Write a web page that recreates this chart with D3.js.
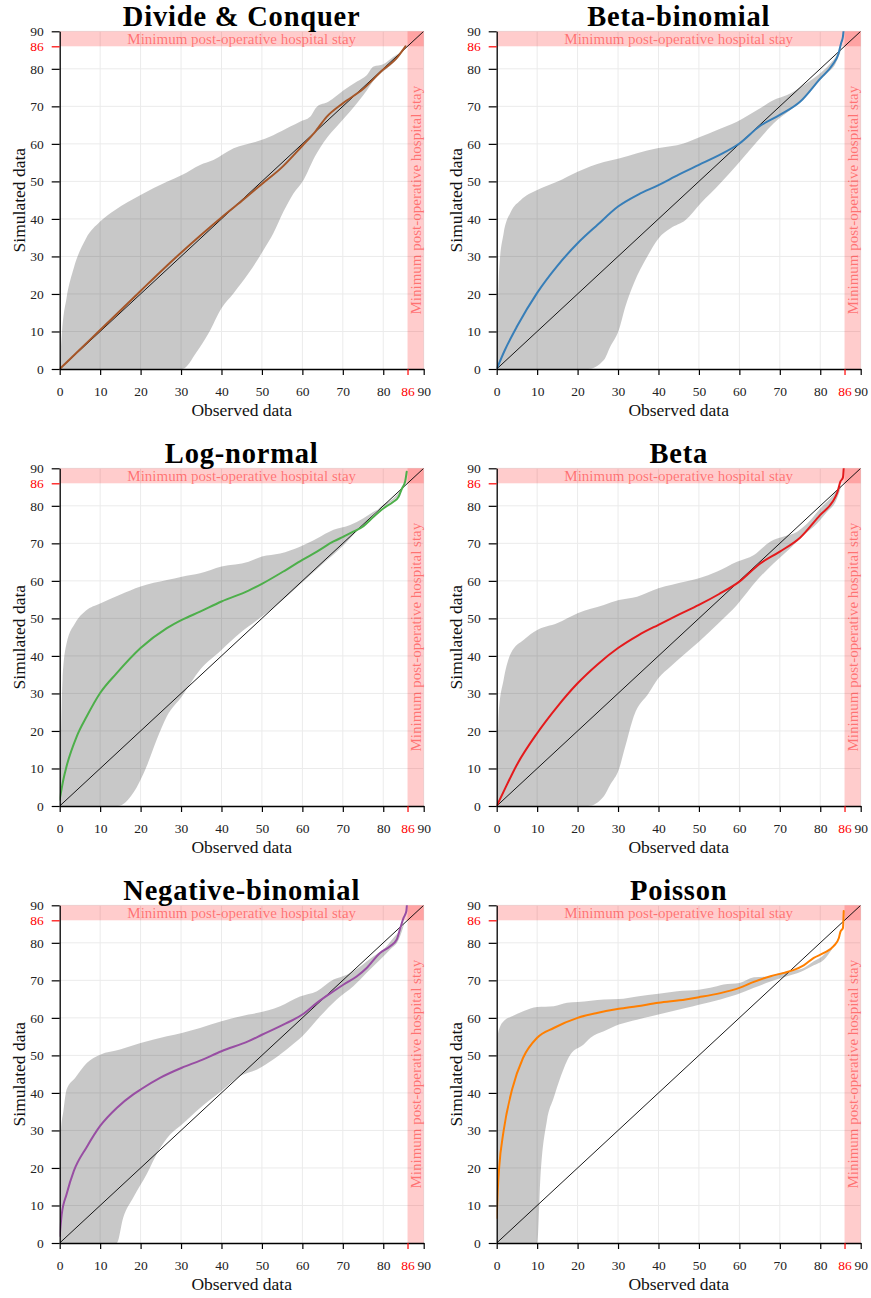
<!DOCTYPE html>
<html>
<head>
<meta charset="utf-8">
<script src="https://cdn.jsdelivr.net/npm/d3@7"></script>
<style>
  html, body { margin: 0; padding: 0; background: #fff; }
  svg { display: block; }
</style>
</head>
<body>
<svg id="chart" width="871" height="1298"></svg>
<script>
// ---------- data ----------
const titles = ["Divide & Conquer", "Beta-binomial", "Log-normal", "Beta", "Negative-binomial", "Poisson"];
const colors = ["#a65628", "#377eb8", "#4daf4a", "#e41a1c", "#984ea3", "#ff7f00"];
const xTicks = [0, 10, 20, 30, 40, 50, 60, 70, 80, 90];
const yTicks = [0, 10, 20, 30, 40, 50, 60, 70, 80, 90];
const limitValue = 86;
const domainMax = 90;
const bandLabel = "Minimum post-operative hospital stay";

// Divide & Conquer
const dcUpper = [[0,0],[0.6,10.4],[1.7,19],[3.5,27],[6.5,34.8],[10,39.3],[13.7,42.4],[20,46.4],[26.5,49.9],[30.2,51.7],[34.7,54.4],[38,55.7],[43,58.8],[48.7,60.6],[52.8,62.3],[57,64.6],[59.4,65.9],[61.9,67.2],[63.6,69.9],[66.4,71.2],[70.2,74.3],[73.5,76.6],[75.9,78.3],[77.6,80.6],[80,81.2],[82.5,83.2],[84.2,84.5],[85.4,85.9]];
const dcLower = [[0,0],[30.3,0],[33.9,4.6],[36.8,9.5],[40,16.2],[43,20.2],[46.7,25.5],[50.4,31.7],[52.8,36.1],[55.3,41.9],[57.8,46.8],[60.3,50.4],[63.1,56.6],[66,61.5],[68.5,64.6],[71.8,68.6],[75.1,73],[78.4,77.9],[80.9,80.1],[84.2,83.7],[85.4,85.9]];
const dcCurve = [[0,0],[5,5.2],[10,10.4],[15,15.6],[20,20.8],[25,26],[30,31],[35,35.8],[40,40.4],[45,44.8],[50,49.3],[55,53.8],[60,59.5],[63,63],[66,67.2],[70,70.8],[75,74.6],[80,79.8],[83,82.5],[84,83.8],[85.5,86]];

// Beta-binomial
const bbUpper = [[0,0],[0.6,26.4],[1.7,36.1],[3.5,41.9],[5.9,45],[10,47.7],[14.9,49.9],[20,52.6],[26.5,55.2],[30.2,56.1],[34.7,57.5],[39.7,58.8],[46.2,60.1],[50.4,61.9],[54.5,63.7],[59.4,65.9],[64.4,69],[68.5,71.7],[71.8,73],[75.9,75.7],[80,78.8],[82.5,81.4],[84.2,83.7],[85.3,85.5]];
const bbLower = [[0,0],[22.6,0],[26.5,2.4],[28.1,6],[30.2,10.4],[31.8,16.6],[33.9,22.8],[37.2,29.9],[40,34.8],[43,37.5],[46.7,39.7],[50.4,44.1],[55.3,49.5],[59.4,54.4],[64.4,60.6],[68.5,65.5],[72.6,69],[75.9,72.1],[79.2,76.1],[81.7,78.8],[83.8,81.4],[85.3,85.5]];
const bbCurve = [[0,0],[2,5],[5,11.3],[10,20.3],[15,27.5],[20,33.5],[25,38.5],[30,43.3],[35,46.5],[40,49],[45,51.8],[50,54.4],[55,57],[60,60.1],[65,64.7],[70,67.7],[75,71.2],[80,77.4],[83,81],[84.5,84],[85.2,87],[85.6,88.5],[85.9,92]];

// Log-normal
const lnUpper = [[0,5],[0.3,17.7],[0.7,33.6],[1.7,43.4],[3.8,48.7],[6.5,52.1],[10,54],[14.9,56.3],[20,58.5],[26.5,60.2],[30.2,61.1],[34.7,62],[40,63.8],[46.7,65.1],[50,66.5],[54.5,67.3],[59.4,69.1],[63.6,71.3],[67.7,73.6],[71.8,74.9],[75.1,76.7],[77.6,78.4],[80,79.8],[82.5,81.5],[84.2,83.3],[85.3,85.5]];
const lnLower = [[0,0],[14.4,0],[18.2,3.5],[21.5,10.6],[24,17.7],[26.5,23.9],[30.2,29.2],[34.7,36.3],[40,41.6],[44.6,46.1],[50,50.5],[55,54.8],[60,59.6],[65,64.5],[70,69.3],[75.1,75],[80,80.3],[82.5,82],[84.2,84],[85.3,85.5]];
const lnCurve = [[0,1.7],[0.9,7],[1.7,10.6],[4.2,18.5],[6.7,23.9],[10,30.1],[14.1,35.4],[20,42.1],[26.5,47.4],[30.2,49.6],[34.7,51.8],[40,54.5],[46.7,57.4],[50,59.2],[55.3,62.5],[60,65.6],[63.6,67.8],[67.7,70.5],[70.2,71.8],[72.6,73.1],[75.1,74.6],[77.6,77.1],[80,79.3],[82.5,81.1],[83.8,82.4],[84.6,84.6],[85.4,86.4],[85.8,89.1]];

// Beta
const beUpper = [[0,0],[0.5,24.8],[1.7,33.6],[3.5,40.7],[6.7,44.3],[10,46.9],[14.9,48.7],[20,51.4],[26.5,53.6],[30.2,54.9],[34.7,55.8],[40,58],[46.7,59.8],[50,60.7],[54.5,62.5],[59.4,65.1],[63.6,66.9],[67.7,70.5],[71,71.8],[74.3,73.1],[77.6,76.2],[80,79.3],[82.5,82],[84.2,84.2],[85.3,85.5]];
const beLower = [[0,0],[22.6,0],[26.5,2.6],[28.1,5.7],[30.2,9.7],[31.8,15.9],[33.9,23.9],[37.6,30.1],[40,34.1],[43,37.2],[46.7,40.7],[50,43.8],[55.3,49.2],[59.4,53.6],[64.4,60.2],[68.5,64.7],[72.6,68.7],[75.9,72.2],[79.2,75.3],[81.7,78.4],[83.8,81.1],[85.3,85.5]];
const beCurve = [[0,0],[2,4.5],[5,11],[10,19.4],[15,26.5],[20,32.7],[25,37.8],[30,42.1],[35,45.5],[40,48.3],[45,51],[50,53.6],[55,56.5],[60,59.8],[65,64.5],[70,67.8],[75,71.5],[80,77.6],[83,81],[84.2,83.5],[85,86.5],[85.6,87.5],[85.9,92]];

// Negative-binomial
const nbUpper = [[0,3],[0.3,29.8],[0.9,35.1],[1.7,40.9],[3.8,44],[6.7,48],[10,50.2],[14.9,51.6],[20,53.3],[26.5,55.1],[30.2,56],[34.7,57.3],[40,59.1],[46.7,60.9],[48.7,61.3],[54.5,63.1],[59.4,65.7],[63.6,67.1],[67.7,70.2],[71,71.5],[74.3,73.7],[77.6,76.4],[80,78.2],[82.5,81.3],[84.2,83.5],[85.3,85.5]];
const nbLower = [[0,0],[14.1,0],[15.7,6.7],[18.2,12.1],[21.5,18.3],[24.4,24.5],[27.3,28.9],[30.2,31.6],[34.7,36],[40,40.5],[44.6,44.5],[48.7,46.2],[52.8,48.9],[57,52.4],[60,55.1],[64.4,60.4],[68.5,64.9],[72.6,68.4],[75.9,72],[79.2,75.5],[81.7,78.2],[83.8,80.8],[85.3,85.5]];
const nbCurve = [[0,1.9],[0.5,7.6],[1.7,13],[3.5,19.2],[6.7,25.6],[10,31.2],[14.1,36],[18.2,39.6],[20,40.9],[24.8,44],[30.2,46.7],[34.7,48.6],[40,51.1],[46.7,53.8],[50,55.5],[55.3,58.2],[60,60.9],[63.6,64],[67.7,67.1],[70.2,68.9],[73.5,71.1],[75.9,73.3],[79.2,77.3],[81.7,79.1],[83.3,80.8],[84.2,83.9],[85,86.6],[85.7,88.4],[85.95,92]];

// Poisson
const poUpper = [[0,50],[0.3,55.5],[0.9,57.8],[1.7,59.1],[3.8,60.4],[6.7,61.8],[10,62.9],[14.1,63.1],[17.4,64],[20,64.2],[26.5,64.9],[30.2,65],[34.7,65.7],[40,66.4],[44.6,67.1],[50,67.5],[52.8,68],[56.1,68.9],[60,69.3],[63.6,70.8],[67.7,71.1],[70.2,72],[73.5,72.6],[75.9,73.3],[78.4,75.1],[80,76],[82.5,78.2],[83,78.5]];
const poLower = [[0,0],[10,0],[10.8,17.4],[12.4,32.5],[14.1,38.7],[15.7,44],[18.2,50.2],[21.5,52.9],[23.2,54.7],[26.5,56.4],[30.2,58.2],[34.7,59.5],[40,60.9],[46.7,62.6],[50,63.5],[55.3,64.9],[59.4,66.2],[63.6,68],[67.7,69.7],[71.8,71.1],[75.1,72.2],[78.4,74],[80.9,75.5],[83,78.5]];
const poCurve = [[0,6.7],[0.25,13.8],[0.6,20],[1.7,29.8],[3.8,40.9],[6.5,49.3],[10,54.7],[14.1,57.3],[20,60],[24.8,61.3],[30.2,62.4],[34.7,63.1],[40,64],[46.7,64.9],[50,65.5],[55.3,66.6],[60,68],[63.6,69.6],[67.7,71.1],[71,72],[73.5,72.8],[75.9,74],[78.4,76],[80.9,77.3],[83.3,79.1],[84.6,81.3],[85,83],[85.6,83.9],[85.8,88.5]];

const uppers = [dcUpper, bbUpper, lnUpper, beUpper, nbUpper, poUpper];
const lowers = [dcLower, bbLower, lnLower, beLower, nbLower, poLower];
const curves = [dcCurve, bbCurve, lnCurve, beCurve, nbCurve, poCurve];

// ---------- layout ----------
const colX = [59.7, 496.7];
const rowY = [31.3, 468.3, 905.3];
const plotW = 364, plotH = 337.7;
const FONT = "'Liberation Serif', 'Times New Roman', serif";

const svg = d3.select("#chart");
const defs = svg.append("defs");

titles.forEach((title, i) => {
  const col = i % 2, row = Math.floor(i / 2);
  const g = svg.append("g").attr("transform", `translate(${colX[col]},${rowY[row]})`);
  const x = d3.scaleLinear().domain([0, domainMax]).range([0, plotW]);
  const y = d3.scaleLinear().domain([0, domainMax]).range([plotH, 0]);

  const clipId = "clip" + i;
  defs.append("clipPath").attr("id", clipId)
    .append("rect").attr("x", 0).attr("y", 0).attr("width", plotW).attr("height", plotH);

  // grid
  g.append("g").selectAll("line").data(xTicks.filter(v => v > 0)).join("line")
    .attr("x1", d => x(d)).attr("x2", d => x(d)).attr("y1", 0).attr("y2", plotH)
    .attr("stroke", "#ebebeb").attr("stroke-width", 1);
  g.append("g").selectAll("line").data(yTicks.filter(v => v > 0)).join("line")
    .attr("y1", d => y(d)).attr("y2", d => y(d)).attr("x1", 0).attr("x2", plotW)
    .attr("stroke", "#ebebeb").attr("stroke-width", 1);

  // red limit bands
  g.append("rect")
    .attr("x", x(0)).attr("y", y(domainMax))
    .attr("width", x(domainMax) - x(0)).attr("height", y(limitValue) - y(domainMax))
    .attr("fill", "red").attr("fill-opacity", 0.2);
  g.append("rect")
    .attr("x", x(limitValue)).attr("y", y(domainMax))
    .attr("width", x(domainMax) - x(limitValue)).attr("height", y(0) - y(domainMax))
    .attr("fill", "red").attr("fill-opacity", 0.2);

  const plot = g.append("g").attr("clip-path", `url(#${clipId})`);

  // envelope band: area under upper minus area under lower (evenodd), semi-transparent
  const area = d3.area().x(d => x(d[0])).y0(y(0)).y1(d => y(d[1])).curve(d3.curveMonotoneX);
  plot.append("path")
    .attr("d", area(uppers[i]) + area(lowers[i]))
    .attr("fill", "#000").attr("fill-opacity", 0.215).attr("fill-rule", "evenodd");

  // diagonal
  plot.append("line")
    .attr("x1", x(0)).attr("y1", y(0)).attr("x2", x(domainMax)).attr("y2", y(domainMax))
    .attr("stroke", "#000").attr("stroke-width", 0.9);

  // model curve
  const line = d3.line().x(d => x(d[0])).y(d => y(d[1])).curve(d3.curveMonotoneX);
  plot.append("path").attr("d", line(curves[i]))
    .attr("fill", "none").attr("stroke", colors[i]).attr("stroke-width", 2)
    .attr("stroke-linejoin", "round").attr("stroke-linecap", "round");

  // band labels
  g.append("text")
    .attr("x", x(domainMax / 2)).attr("y", (y(limitValue) + y(domainMax)) / 2)
    .attr("text-anchor", "middle").attr("dominant-baseline", "central")
    .attr("font-family", FONT).attr("font-size", 15)
    .attr("fill", "red").attr("fill-opacity", 0.45)
    .text(bandLabel);
  const vx = (x(limitValue) + x(domainMax)) / 2, vy = plotH / 2;
  g.append("text")
    .attr("transform", `translate(${vx},${vy}) rotate(-90)`)
    .attr("text-anchor", "middle").attr("dominant-baseline", "central")
    .attr("font-family", FONT).attr("font-size", 15)
    .attr("fill", "red").attr("fill-opacity", 0.45)
    .text(bandLabel);

  // axes
  const xTickVals = [...xTicks, limitValue].sort((a, b) => a - b);
  const xAxis = g.append("g").attr("transform", `translate(0,${plotH})`)
    .call(d3.axisBottom(x).tickValues(xTickVals).tickSize(6).tickPadding(14).tickSizeOuter(0).tickFormat(d3.format("d")));
  const yTickVals = [...yTicks, limitValue].sort((a, b) => a - b);
  const yAxis = g.append("g")
    .call(d3.axisLeft(y).tickValues(yTickVals).tickSize(8).tickPadding(8).tickSizeOuter(0).tickFormat(d3.format("d")));
  [xAxis, yAxis].forEach(ax => {
    ax.attr("font-family", FONT);
    ax.select(".domain").attr("stroke", "#000").attr("stroke-width", 1.3);
    ax.selectAll(".tick line").attr("stroke", d => d === limitValue ? "red" : "#000").attr("stroke-width", 1.2);
    ax.selectAll(".tick text")
      .attr("font-family", FONT).attr("font-size", 13.5)
      .attr("fill", d => d === limitValue ? "red" : "#222");
  });
  xAxis.selectAll(".tick text").attr("dy", "0.55em");

  // axis titles
  g.append("text")
    .attr("x", plotW / 2).attr("y", plotH + 47.5)
    .attr("text-anchor", "middle")
    .attr("font-family", FONT).attr("font-size", 17.5).attr("fill", "#111")
    .text("Observed data");
  g.append("text")
    .attr("transform", `translate(${-35},${plotH / 2}) rotate(-90)`)
    .attr("text-anchor", "middle")
    .attr("font-family", FONT).attr("font-size", 17.5).attr("fill", "#111")
    .text("Simulated data");

  // panel title
  g.append("text")
    .attr("x", plotW / 2).attr("y", -5.3)
    .attr("text-anchor", "middle")
    .attr("font-family", FONT).attr("font-size", 28.5).attr("font-weight", "bold")
    .attr("letter-spacing", 0.8).attr("fill", "#000")
    .text(title);
});
</script>
</body>
</html>
